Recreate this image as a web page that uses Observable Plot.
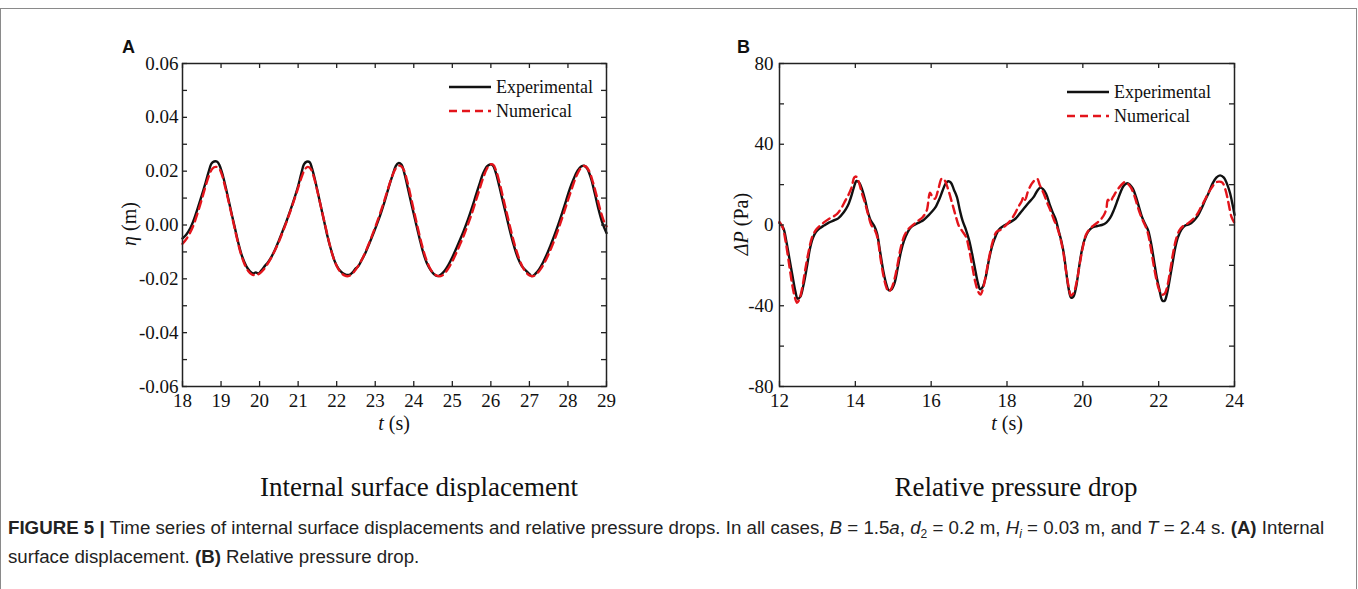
<!DOCTYPE html>
<html><head><meta charset="utf-8">
<script src="https://cdn.jsdelivr.net/npm/d3@7"></script>
<script src="https://cdn.jsdelivr.net/npm/@observablehq/plot@0.6"></script>
<style>
body{margin:0;background:#fff;}
#fig{position:relative;width:1358px;height:589px;overflow:hidden;background:#fff;}
#border{position:absolute;left:0;top:8px;width:1355px;height:620px;border:1px solid #8a8a8a;}
.plot{position:absolute;top:0;}
.letter{position:absolute;font-family:"Liberation Sans",Arial,sans-serif;font-weight:bold;font-size:18px;color:#111;}
.sub{position:absolute;font-family:"Liberation Serif","Times New Roman",serif;font-size:27px;color:#111;transform:translate(-50%,-50%);white-space:nowrap;}
#caption{position:absolute;left:8px;top:513px;font-family:"Liberation Sans",Arial,sans-serif;font-size:18.7px;line-height:29px;color:#222;white-space:nowrap;}
#caption b{font-weight:bold;}
#caption sub{font-size:12px;line-height:0;vertical-align:-4px;}
</style></head><body>
<div id="fig">
  <div id="border"></div>
  <div id="pa" class="plot" style="left:0px"></div>
  <div id="pb" class="plot" style="left:680px"></div>
  <div class="letter" style="left:122px;top:37px">A</div>
  <div class="letter" style="left:737px;top:37px">B</div>
  <div class="sub" style="left:419px;top:487px">Internal surface displacement</div>
  <div class="sub" style="left:1016px;top:487px">Relative pressure drop</div>
  <div id="caption"><b>FIGURE 5 |</b> Time series of internal surface displacements and relative pressure drops. In all cases, <i>B</i> = 1.5<i>a</i>, <i>d</i><sub>2</sub> = 0.2 m, <i>H<sub>i</sub></i> = 0.03 m, and <i>T</i> = 2.4 s. <b>(A)</b> Internal<br>surface displacement. <b>(B)</b> Relative pressure drop.</div>
</div>
<script>
// ---------- Panel A: internal surface displacement η (m) ----------
const xTicksA = [18,19,20,21,22,23,24,25,26,27,28,29];
const yMajorA = [-0.06,-0.04,-0.02,0,0.02,0.04,0.06];
const yMinorA = [-0.05,-0.03,-0.01,0.01,0.03,0.05];

const tExpA = [18.0,18.1,18.2,18.3,18.4,18.5,18.6,18.68,18.75,18.82,18.9,18.96,19.05,19.15,19.25,19.35,19.45,19.55,19.65,19.75,19.83,19.9,19.97,20.05,20.15,20.2,20.3,20.4,20.5,20.6,20.7,20.8,20.9,21.0,21.08,21.15,21.22,21.3,21.36,21.45,21.55,21.65,21.75,21.85,21.95,22.05,22.15,22.25,22.33,22.42,22.5,22.55,22.65,22.75,22.85,22.95,23.05,23.15,23.25,23.35,23.45,23.53,23.6,23.68,23.76,23.85,23.95,24.05,24.15,24.25,24.35,24.45,24.55,24.63,24.7,24.8,24.9,25.0,25.1,25.2,25.3,25.4,25.5,25.6,25.7,25.8,25.9,25.98,26.05,26.12,26.2,26.3,26.4,26.5,26.6,26.7,26.8,26.9,27.0,27.06,27.15,27.25,27.35,27.45,27.55,27.65,27.75,27.85,27.95,28.05,28.15,28.25,28.35,28.42,28.5,28.6,28.7,28.8,28.9,29.0];
const etaExpA = [-0.005,-0.0035,-0.0012,0.0022,0.0065,0.011,0.0158,0.0198,0.0228,0.0236,0.0235,0.0222,0.0182,0.0122,0.0058,-0.0005,-0.0068,-0.0118,-0.0152,-0.0172,-0.018,-0.0176,-0.018,-0.0168,-0.015,-0.0142,-0.012,-0.0092,-0.0058,-0.0022,0.0015,0.0055,0.0098,0.0145,0.019,0.0225,0.0235,0.0233,0.021,0.016,0.0095,0.003,-0.0035,-0.009,-0.0135,-0.0163,-0.0178,-0.0185,-0.0185,-0.0175,-0.016,-0.0155,-0.013,-0.0102,-0.0068,-0.0032,0.0005,0.0045,0.009,0.014,0.0185,0.0218,0.023,0.0225,0.019,0.0135,0.0072,0.001,-0.005,-0.0105,-0.0145,-0.017,-0.0186,-0.019,-0.0185,-0.017,-0.0148,-0.012,-0.0088,-0.0055,-0.002,0.0018,0.006,0.0105,0.015,0.0192,0.0218,0.0225,0.0222,0.0198,0.0155,0.0095,0.0035,-0.0025,-0.0078,-0.0122,-0.0152,-0.0168,-0.0182,-0.019,-0.0182,-0.0165,-0.014,-0.011,-0.0075,-0.0038,0.0002,0.0045,0.009,0.0135,0.0172,0.0202,0.0218,0.022,0.021,0.0172,0.0115,0.0055,0.0005,-0.003];

const tNumA = [18.0,18.1,18.2,18.3,18.4,18.5,18.6,18.7,18.78,18.86,18.94,19.02,19.1,19.2,19.3,19.4,19.5,19.6,19.7,19.8,19.9,20.0,20.1,20.2,20.3,20.4,20.5,20.6,20.7,20.8,20.9,21.0,21.1,21.18,21.25,21.32,21.4,21.5,21.6,21.7,21.8,21.9,22.0,22.1,22.2,22.3,22.4,22.5,22.6,22.7,22.8,22.9,23.0,23.1,23.2,23.3,23.4,23.5,23.58,23.66,23.74,23.82,23.9,24.0,24.1,24.2,24.3,24.4,24.5,24.6,24.7,24.8,24.9,25.0,25.1,25.2,25.3,25.4,25.5,25.6,25.7,25.8,25.9,25.98,26.06,26.14,26.22,26.32,26.42,26.52,26.62,26.72,26.82,26.92,27.02,27.1,27.2,27.3,27.4,27.5,27.6,27.7,27.8,27.9,28.0,28.1,28.2,28.3,28.38,28.46,28.55,28.65,28.75,28.85,28.95,29.0];
const etaNumA = [-0.007,-0.0052,-0.0028,0.0005,0.0048,0.0095,0.0145,0.0188,0.021,0.0216,0.0212,0.0188,0.0145,0.0085,0.0022,-0.0042,-0.01,-0.0142,-0.017,-0.0184,-0.0186,-0.018,-0.0166,-0.0146,-0.0122,-0.0094,-0.0062,-0.0026,0.0012,0.0052,0.0094,0.0138,0.0182,0.0208,0.0216,0.021,0.0182,0.0125,0.0062,0.0,-0.0062,-0.0115,-0.0152,-0.0175,-0.0187,-0.019,-0.0182,-0.0165,-0.0142,-0.0115,-0.0082,-0.0046,-0.0008,0.0032,0.0075,0.012,0.0165,0.0202,0.0218,0.022,0.0205,0.0168,0.012,0.0055,-0.0008,-0.0068,-0.0118,-0.0155,-0.0178,-0.0188,-0.019,-0.018,-0.016,-0.0135,-0.0105,-0.0072,-0.0038,0.0,0.004,0.0085,0.013,0.0175,0.021,0.0225,0.0224,0.02,0.016,0.01,0.004,-0.002,-0.0075,-0.012,-0.0155,-0.0177,-0.0188,-0.019,-0.018,-0.0162,-0.0138,-0.0108,-0.0074,-0.0036,0.0005,0.0048,0.0092,0.0135,0.0175,0.0205,0.0218,0.0218,0.02,0.0158,0.0105,0.005,0.0008,-0.0005];

// ---------- Panel B: relative pressure drop ΔP (Pa) ----------
const xTicksB = [12,14,16,18,20,22,24];
const yMajorB = [-80,-40,0,40,80];
const yMinorB = [-60,-20,20,60];

const tExpB = [12.0,12.1,12.18,12.27,12.35,12.42,12.48,12.55,12.63,12.72,12.8,12.88,12.96,13.05,13.17,13.3,13.45,13.55,13.7,13.8,13.88,13.96,14.03,14.1,14.18,14.26,14.33,14.4,14.5,14.57,14.66,14.74,14.82,14.88,14.95,15.03,15.12,15.2,15.28,15.38,15.47,15.58,15.7,15.8,15.93,16.03,16.12,16.22,16.3,16.38,16.45,16.52,16.6,16.68,16.76,16.83,16.92,17.0,17.08,17.16,17.23,17.29,17.35,17.43,17.52,17.6,17.68,17.78,17.88,18.0,18.12,18.22,18.33,18.44,18.57,18.7,18.8,18.88,18.95,19.03,19.12,19.2,19.28,19.36,19.44,19.5,19.56,19.62,19.69,19.75,19.82,19.9,19.97,20.05,20.14,20.25,20.38,20.5,20.62,20.72,20.82,20.92,21.0,21.08,21.17,21.25,21.32,21.4,21.48,21.56,21.63,21.72,21.8,21.88,21.95,22.02,22.1,22.16,22.22,22.3,22.37,22.44,22.51,22.6,22.7,22.82,22.93,23.03,23.12,23.22,23.32,23.42,23.52,23.62,23.72,23.8,23.88,23.95,24.0];
const dpExpB = [1.0,-1.5,-8,-17.6,-26,-33,-36.5,-35.5,-30,-21,-12,-6.5,-3.5,-1.8,-0.3,1.2,2.4,3.3,6.4,9.5,13.5,18.5,21.8,21,17.5,12.2,6.5,2.5,-0.5,-4,-14,-23,-29.5,-32.3,-32,-29,-21,-13.5,-8,-3.5,-1,0.3,1.4,2.5,4.8,6.8,9,13,17,20.5,21.7,21,17.5,13.8,7,2,-2.5,-7.5,-14.3,-22,-28.5,-31.8,-31,-26.5,-17.6,-11,-6.5,-2.5,-0.8,0.5,1.8,3.1,5.5,8,11,13.8,17,18.5,17.8,15.5,10.5,6.5,3,-2.7,-8.5,-14.3,-23,-31,-36,-35.5,-31,-21,-13,-7,-3.3,-1.2,-0.5,0,1.2,3.5,7.5,12.5,16.5,19.5,20.7,19.8,18,14,9,4,1,-2.5,-9,-18,-26,-32,-37.5,-37.5,-34,-26,-18.5,-11,-6,-2.3,-0.3,0.5,2.2,4.5,7.8,12,16,20.5,23.5,24.6,23.5,20.5,16,10,5];

const tNumB = [12.0,12.08,12.16,12.25,12.33,12.4,12.46,12.52,12.6,12.68,12.77,12.86,12.96,13.06,13.18,13.3,13.42,13.52,13.62,13.74,13.82,13.9,13.97,14.02,14.08,14.17,14.26,14.34,14.42,14.5,14.58,14.66,14.74,14.82,14.88,14.95,15.03,15.12,15.2,15.3,15.4,15.52,15.65,15.78,15.88,15.97,16.03,16.1,16.18,16.28,16.36,16.45,16.55,16.64,16.73,16.82,16.92,17.0,17.08,17.16,17.24,17.3,17.36,17.45,17.54,17.62,17.72,17.82,17.92,18.02,18.12,18.22,18.3,18.38,18.44,18.48,18.55,18.65,18.75,18.8,18.86,18.97,19.06,19.15,19.24,19.32,19.4,19.48,19.55,19.62,19.69,19.76,19.84,19.92,20.0,20.08,20.18,20.28,20.37,20.46,20.55,20.62,20.66,20.72,20.8,20.9,21.0,21.1,21.18,21.27,21.36,21.44,21.52,21.6,21.7,21.78,21.86,21.94,22.02,22.09,22.16,22.22,22.3,22.38,22.46,22.55,22.65,22.77,22.9,23.02,23.12,23.22,23.3,23.4,23.5,23.6,23.68,23.76,23.84,23.92,24.0];
const dpNumB = [1.5,-1,-8,-19,-29,-35.5,-38.5,-37,-31,-22,-13,-6,-2.5,-0.5,1.4,3,4.2,5.5,8,12.2,15,18.5,23.5,24,22,16,10.6,5,0,-2,-6,-16,-25,-31,-33,-31.5,-27,-19,-11,-5,-2,0,2,4,7,16,14,13,17,23,22,17.5,11,5,-0.5,-3,-6,-12,-20,-28,-33,-34.5,-32,-24,-15,-8.5,-3.5,-2.5,-1,0.8,3,6,9,11.5,14,12.5,16.5,20.4,22.5,22.9,20,15.5,11,7,2.5,-1,-6,-13,-22,-30,-35,-33.5,-28,-19,-11,-5,-2,-0.3,1,2.5,4.7,8,12.5,11.5,14,17.1,19.5,21.2,20.5,18.5,14.5,9.5,5,1.5,-3,-10,-19,-27,-32.5,-34.5,-34,-31,-23,-14,-7,-2.5,-0.5,0.8,2.8,5.5,9,12.5,15.5,18.5,21,21.5,21,17.5,11,4,1];

const series = (ts, vs) => ts.map((t, i) => ({t, v: vs[i]}));

const H = 440, MT = 63, MB = 54, TL = 5;
const serif = "'Liberation Serif','Times New Roman',serif";

function panel({w, ml, mr, xDom, yDom, xTicks, yMajor, yMinor, yFmt, yPad, exp, num}) {
  const ph = H - MT - MB, pw = w - ml - mr;
  const yAll = yMajor.concat(yMinor);
  const tickStyle = {stroke: "#222", strokeWidth: 1.3};
  return Plot.plot({
    width: w, height: H,
    marginLeft: ml, marginRight: mr, marginTop: MT, marginBottom: MB,
    x: {domain: xDom, label: null},
    y: {domain: yDom, label: null},
    style: {fontFamily: serif, fontSize: "19px", color: "#111", background: "transparent", overflow: "visible"},
    marks: [
      Plot.line(exp, {x: "t", y: "v", stroke: "#111", strokeWidth: 2.4, curve: "catmull-rom"}),
      Plot.line(num, {x: "t", y: "v", stroke: "#e3141b", strokeWidth: 2.4, strokeDasharray: "8,5", curve: "catmull-rom"}),
      Plot.tickX(xTicks, {x: d => d, insetTop: ph - TL, ...tickStyle}),
      Plot.tickX(xTicks, {x: d => d, insetBottom: ph - TL, ...tickStyle}),
      Plot.tickY(yAll, {y: d => d, insetRight: pw - TL, ...tickStyle}),
      Plot.tickY(yAll, {y: d => d, insetLeft: pw - TL, ...tickStyle}),
      Plot.frame({stroke: "#222", strokeWidth: 1.5}),
      Plot.axisX(xTicks, {tickSize: 0, tickPadding: 7, tickFormat: d => String(d), fontSize: 19}),
      Plot.axisY(yMajor, {tickSize: 0, tickPadding: yPad, tickFormat: yFmt, fontSize: 19})
    ]
  });
}

function decorate(svg, {yTitle, xTitleX, yTitleX, legendX, legendY}) {
  const s = d3.select(svg);
  const yt = s.append("text")
    .attr("transform", `translate(${yTitleX},224) rotate(-90)`)
    .attr("text-anchor", "middle").attr("dominant-baseline", "central")
    .style("font-family", serif).style("font-size", "20px").attr("fill", "#111");
  yTitle.forEach(([txt, it]) => yt.append("tspan").text(txt).style("font-style", it ? "italic" : "normal"));
  const xt = s.append("text")
    .attr("x", xTitleX).attr("y", 423)
    .attr("text-anchor", "middle").attr("dominant-baseline", "central")
    .style("font-family", serif).style("font-size", "20px").attr("fill", "#111");
  xt.append("tspan").text("t").style("font-style", "italic");
  xt.append("tspan").text(" (s)");
  const items = [["Experimental", "#111", null], ["Numerical", "#e3141b", "8,5"]];
  items.forEach(([label, color, dash], i) => {
    const y = legendY + i * 24;
    s.append("line").attr("x1", legendX).attr("x2", legendX + 42).attr("y1", y).attr("y2", y)
      .attr("stroke", color).attr("stroke-width", 2.4).attr("stroke-dasharray", dash);
    s.append("text").attr("x", legendX + 47).attr("y", y).attr("dominant-baseline", "central")
      .attr("text-anchor", "start")
      .style("font-family", serif).style("font-size", "18px").attr("fill", "#111").text(label);
  });
}

const plotA = panel({w: 660, ml: 182, mr: 54, xDom: [18, 29], yDom: [-0.06, 0.06],
  xTicks: xTicksA, yMajor: yMajorA, yMinor: yMinorA, yFmt: d => d.toFixed(2), yPad: 4,
  exp: series(tExpA, etaExpA), num: series(tNumA, etaNumA)});
decorate(plotA, {yTitle: [["η", true], [" (m)", false]], xTitleX: 394, yTitleX: 129, legendX: 449, legendY: 87});
document.getElementById("pa").appendChild(plotA);

const plotB = panel({w: 620, ml: 99, mr: 66, xDom: [12, 24], yDom: [-80, 80],
  xTicks: xTicksB, yMajor: yMajorB, yMinor: yMinorB, yFmt: d => String(d), yPad: 6,
  exp: series(tExpB, dpExpB), num: series(tNumB, dpNumB)});
decorate(plotB, {yTitle: [["ΔP", true], [" (Pa)", false]], xTitleX: 327, yTitleX: 61, legendX: 387, legendY: 92});
document.getElementById("pb").appendChild(plotB);
</script>
</body></html>
